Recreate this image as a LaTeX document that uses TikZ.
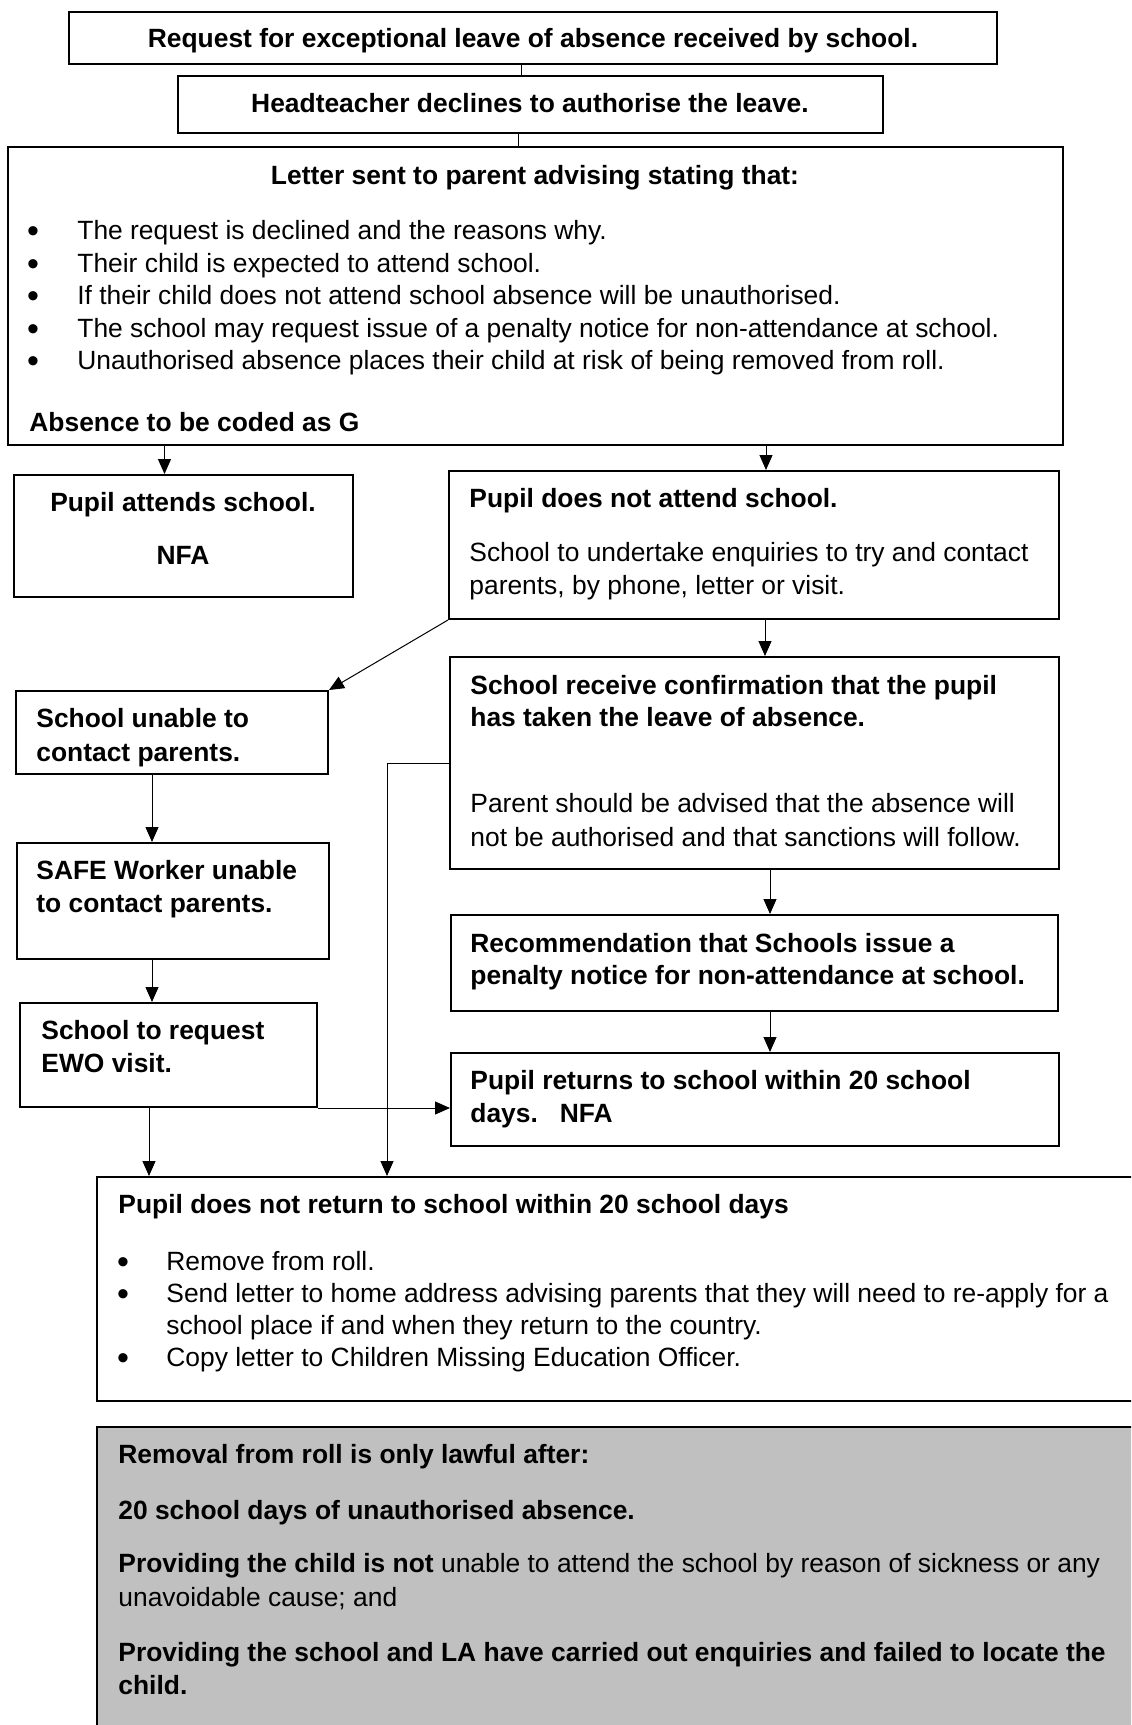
\documentclass[tikz,border=0pt]{standalone}
\usepackage{fontspec}
\setmainfont{Liberation Sans}
\usetikzlibrary{arrows.meta,fit,calc}
\begin{document}
\begin{tikzpicture}[x=0.5pt,y=-0.5pt,
  font=\fontsize{13.2pt}{15pt}\selectfont,
  box/.style={draw=black, line width=1pt, inner sep=0pt},
  txt/.style={inner sep=0pt, anchor=base west},
  ctxt/.style={inner sep=0pt, anchor=base},
  bf/.style={font=\fontsize{13.2pt}{15pt}\selectfont\bfseries},
  dot/.style={inner sep=0pt, anchor=base, font=\fontsize{17pt}{17pt}\selectfont},
  conn/.style={line width=0.5pt},
  arr/.style={conn, -{Triangle[length=7.5pt,width=6.5pt]}}]
\useasboundingbox (0,0) rectangle (1131,1725);
\clip (0,0) rectangle (1131,1725);

% boxes
\node[box, fit={(68.5,12) (997,64)}] (box1) {};
\node[box, fit={(178,76) (883,133)}] (box2) {};
\node[box, fit={(8,147) (1063,445)}] (box3) {};
\node[box, fit={(14,475) (353,597)}] (attend) {};
\node[box, fit={(449,471) (1059,619)}] (notattend) {};
\node[box, fit={(450,657) (1059,869)}] (receive) {};
\node[box, fit={(16,691) (328,774)}] (unable) {};
\node[box, fit={(17,843) (329,959)}] (safe) {};
\node[box, fit={(19.5,1003) (317,1107)}] (ewo) {};
\node[box, fit={(451,915) (1058,1011)}] (recommend) {};
\node[box, fit={(451,1053) (1059,1146)}] (returns) {};
\node[box, fit={(97,1177) (1160,1401)}] (bottom) {};
\node[box, fill={rgb,255:red,192;green,192;blue,192}, fit={(97,1427) (1160,1760)}] (note) {};

% texts
\node[ctxt, bf] (t1) at (533,47) {Request for exceptional leave of absence received by school.};
\node[ctxt, bf] (t2) at (530,112) {Headteacher declines to authorise the leave.};
\node[ctxt, bf] (t3) at (535,184) {Letter sent to parent advising stating that:};
\node[dot] (b1d) at (33,242) {•};
\node[txt] (b1) at (77,239) {The request is declined and the reasons why.};
\node[dot] (b2d) at (33,275) {•};
\node[txt] (b2) at (77,272) {Their child is expected to attend school.};
\node[dot] (b3d) at (33,307) {•};
\node[txt] (b3) at (77,304) {If their child does not attend school absence will be unauthorised.};
\node[dot] (b4d) at (33,340) {•};
\node[txt] (b4) at (77,337) {The school may request issue of a penalty notice for non-attendance at school.};
\node[dot] (b5d) at (33,372) {•};
\node[txt] (b5) at (77,369) {Unauthorised absence places their child at risk of being removed from roll.};
\node[txt, bf] (t4) at (29,431) {Absence to be coded as G};

\node[ctxt, bf] (a1) at (183,511) {Pupil attends school.};
\node[ctxt, bf] (a2) at (183,564) {NFA};

\node[txt, bf] (n1) at (469,507) {Pupil does not attend school.};
\node[txt] (n2) at (469,561) {School to undertake enquiries to try and contact};
\node[txt] (n3) at (469,594) {parents, by phone, letter or visit.};

\node[txt, bf] (r1) at (470,694) {School receive confirmation that the pupil};
\node[txt, bf] (r2) at (470,726) {has taken the leave of absence.};
\node[txt] (r3) at (470,812) {Parent should be advised that the absence will};
\node[txt] (r4) at (470,846) {not be authorised and that sanctions will follow.};

\node[txt, bf] (u1) at (36,727) {School unable to};
\node[txt, bf] (u2) at (36,761) {contact parents.};

\node[txt, bf] (s1) at (36,879) {SAFE Worker unable};
\node[txt, bf] (s2) at (36,912) {to contact parents.};

\node[txt, bf] (e1) at (41,1039) {School to request};
\node[txt, bf] (e2) at (41,1072) {EWO visit.};

\node[txt, bf] (m1) at (470,952) {Recommendation that Schools issue a};
\node[txt, bf] (m2) at (470,984) {penalty notice for non-attendance at school.};

\node[txt, bf] (p1) at (470,1089) {Pupil returns to school within 20 school};
\node[txt, bf] (p2) at (470,1122) {days.\ \ \ NFA};

\node[txt, bf] (o1) at (118,1213) {Pupil does not return to school within 20 school days};
\node[dot] (o2d) at (123,1273) {•};
\node[txt] (o2) at (166,1270) {Remove from roll.};
\node[dot] (o3d) at (123,1305) {•};
\node[txt] (o3) at (166,1302) {Send letter to home address advising parents that they will need to re-apply for a};
\node[txt] (o4) at (166,1334) {school place if and when they return to the country.};
\node[dot] (o5d) at (123,1369) {•};
\node[txt] (o5) at (166,1366) {Copy letter to Children Missing Education Officer.};

\node[txt, bf] (g1) at (118,1463) {Removal from roll is only lawful after:};
\node[txt, bf] (g2) at (118,1519) {20 school days of unauthorised absence.};
\node[txt] (g3) at (118,1572) {{\bfseries Providing the child is not} unable to attend the school by reason of sickness or any};
\node[txt] (g4) at (118,1606) {unavoidable cause; and};
\node[txt, bf] (g5) at (118,1661) {Providing the school and LA have carried out enquiries and failed to locate the};
\node[txt, bf] (g6) at (118,1694) {child.};

% connector x positions
\coordinate (c1) at (521,0);
\coordinate (c2) at (518,0);
\coordinate (c3) at (164.5,0);
\coordinate (c4) at (766,0);
\coordinate (c5) at (765,0);
\coordinate (c6) at (152,0);
\coordinate (c7) at (770,0);
\coordinate (c8) at (387,0);
\coordinate (c9) at (149,0);

\draw[conn] (c1 |- box1.south) -- (c1 |- box2.north);
\draw[conn] (c2 |- box2.south) -- (c2 |- box3.north);
\draw[arr] (c3 |- box3.south) -- (c3 |- attend.north);
\draw[arr] (c4 |- box3.south) -- (c4 |- notattend.north);
\draw[arr] (notattend.south west) -- (unable.north east);
\draw[arr] (c5 |- notattend.south) -- (c5 |- receive.north);
\draw[arr] (c6 |- unable.south) -- (c6 |- safe.north);
\draw[arr] (c6 |- safe.south) -- (c6 |- ewo.north);
\draw[arr] (c7 |- receive.south) -- (c7 |- recommend.north);
\draw[arr] (c7 |- recommend.south) -- (c7 |- returns.north);
\draw[arr] (receive.west) -- (c8 |- receive.west) -- (c8 |- bottom.north);
\draw[arr] (ewo.south east) -- (ewo.south east -| returns.west);
\draw[arr] (c9 |- ewo.south) -- (c9 |- bottom.north);
\end{tikzpicture}
\end{document}
